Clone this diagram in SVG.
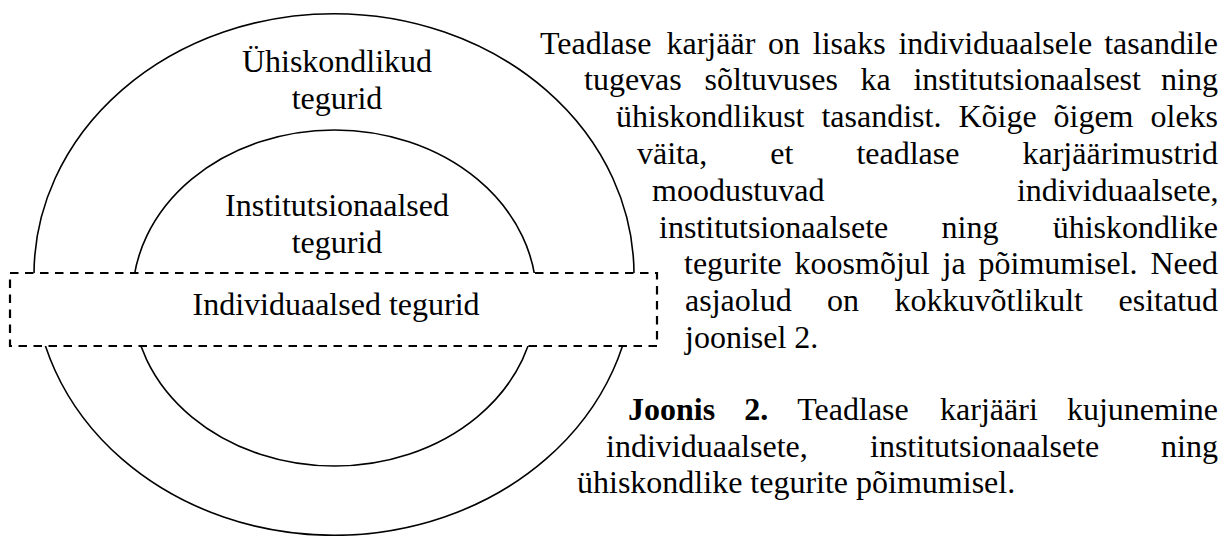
<svg xmlns="http://www.w3.org/2000/svg" width="1232" height="536" viewBox="0 0 1232 536">
<style>
  text { font-family: "Liberation Serif", "Times New Roman", serif; font-size: 32px; fill: #000; }
  .lbl { text-anchor: middle; }
  .ring { fill: none; stroke: #000; stroke-width: 1.6; }
  .dash { fill: #fff; stroke: #000; stroke-width: 2.2; stroke-dasharray: 8.5 6.5; }
  .b { font-weight: bold; }
</style>
<rect width="1232" height="536" fill="#fff"/>
<g id="node-societal">
  <ellipse class="ring" cx="334" cy="274.5" rx="300" ry="260.8"/>
  <text class="lbl" x="337" y="72">Ühiskondlikud</text>
  <text class="lbl" x="337" y="109">tegurid</text>
</g>
<g id="node-institutional">
  <ellipse class="ring" cx="334.5" cy="298" rx="202" ry="168"/>
  <text class="lbl" x="337" y="216">Institutsionaalsed</text>
  <text class="lbl" x="337" y="253">tegurid</text>
</g>
<g id="node-individual">
  <rect class="dash" x="10" y="273" width="647" height="73"/>
  <text class="lbl" x="336" y="315">Individuaalsed tegurid</text>
</g>
<g id="paragraph">
  <text y="53.5"><tspan x="540">Teadlase</tspan><tspan x="666.5">karjäär</tspan><tspan x="768">on</tspan><tspan x="812.8">lisaks</tspan><tspan x="898.4">individuaalsele</tspan><tspan x="1104.2">tasandile</tspan></text>
  <text y="90.3"><tspan x="584">tugevas</tspan><tspan x="704.5">sõltuvuses</tspan><tspan x="860.5">ka</tspan><tspan x="913.4">institutsionaalsest</tspan><tspan x="1161.1">ning</tspan></text>
  <text y="127.1"><tspan x="616">ühiskondlikust</tspan><tspan x="821.4">tasandist.</tspan><tspan x="958.4">Kõige</tspan><tspan x="1053.5">õigem</tspan><tspan x="1150.5">oleks</tspan></text>
  <text y="163.9"><tspan x="637">väita,</tspan><tspan x="770.2">et</tspan><tspan x="856.4">teadlase</tspan><tspan x="1022.5">karjäärimustrid</tspan></text>
  <text y="200.7"><tspan x="652">moodustuvad</tspan><tspan x="1016.9">individuaalsete,</tspan></text>
  <text y="237.5"><tspan x="659">institutsionaalsete</tspan><tspan x="941.5">ning</tspan><tspan x="1052.7">ühiskondlike</tspan></text>
  <text y="274.3"><tspan x="684">tegurite</tspan><tspan x="794.6">koosmõjul</tspan><tspan x="942.6">ja</tspan><tspan x="978.5">põimumisel.</tspan><tspan x="1150.5">Need</tspan></text>
  <text y="311.1"><tspan x="685">asjaolud</tspan><tspan x="827.1">on</tspan><tspan x="894.5">kokkuvõtlikult</tspan><tspan x="1118.5">esitatud</tspan></text>
  <text x="685" y="347.9">joonisel 2.</text>
</g>
<g id="caption">
  <text y="420"><tspan class="b" x="628">Joonis</tspan><tspan class="b" x="744.2">2.</tspan><tspan x="797.3">Teadlase</tspan><tspan x="940.1">karjääri</tspan><tspan x="1066.9">kujunemine</tspan></text>
  <text y="456.5"><tspan x="606">individuaalsete,</tspan><tspan x="870">institutsionaalsete</tspan><tspan x="1161.1">ning</tspan></text>
  <text x="577" y="493">ühiskondlike tegurite põimumisel.</text>
</g>
</svg>
